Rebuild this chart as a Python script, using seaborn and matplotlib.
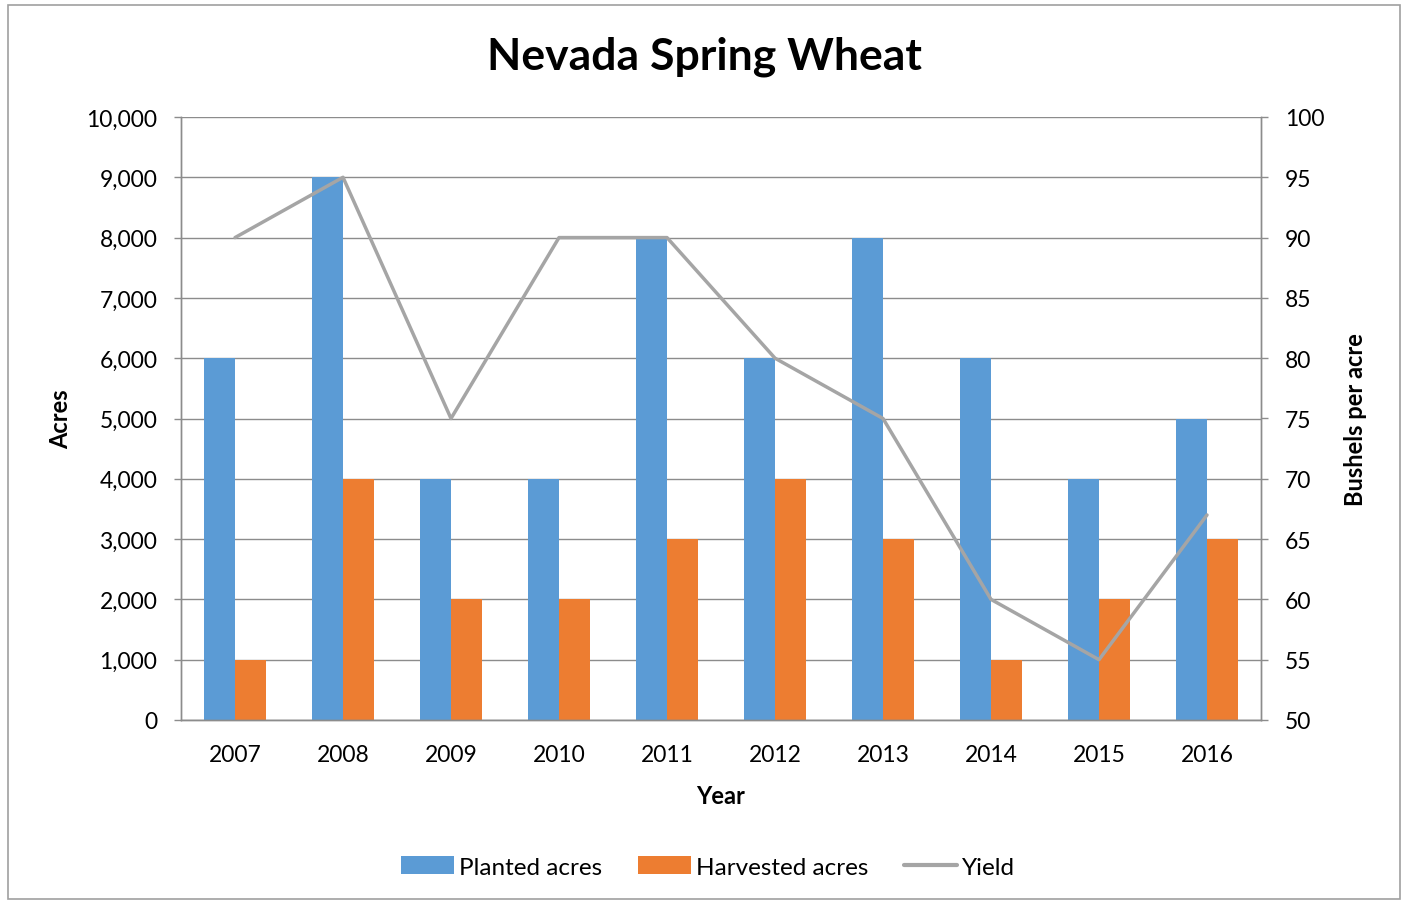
import numpy as np
import pandas as pd
import matplotlib
matplotlib.use("Agg")
import matplotlib.pyplot as plt
from matplotlib.patches import Rectangle, Patch
from matplotlib.lines import Line2D
from matplotlib.ticker import FuncFormatter, MultipleLocator, FixedLocator
import seaborn as sns

years = ["2007", "2008", "2009", "2010", "2011", "2012", "2013", "2014", "2015", "2016"]
planted = [6000, 9000, 4000, 4000, 8000, 6000, 8000, 6000, 4000, 5000]
harvested = [1000, 4000, 2000, 2000, 3000, 4000, 3000, 1000, 2000, 3000]
yield_bu = [90, 95, 75, 90, 90, 80, 75, 60, 55, 67]

sns.set_theme(style="white")
plt.rcParams['font.family'] = ['Lato', 'DejaVu Sans']
plt.rcParams['text.color'] = 'black'
plt.rcParams['axes.labelcolor'] = 'black'
plt.rcParams['xtick.color'] = 'black'
plt.rcParams['ytick.color'] = 'black'

df = pd.DataFrame({
    "Year": years * 2,
    "Acres": planted + harvested,
    "Series": ["Planted acres"] * len(years) + ["Harvested acres"] * len(years),
})

fig = plt.figure(figsize=(14.08, 9.03), dpi=100)
ax = fig.add_axes([181/1408, 1-721/903, (1261-181)/1408, (721-118)/903])

blue = "#5B9BD5"
orange = "#ED7D31"
gray = "#A5A5A5"
axcol = "#8C8C8C"

sns.barplot(data=df, x="Year", y="Acres", hue="Series", order=years,
            hue_order=["Planted acres", "Harvested acres"],
            palette=[blue, orange], width=0.575, saturation=1, ax=ax,
            linewidth=0, legend=False)
ax.set_xlim(-0.5, len(years) - 0.5)
ax.set_ylim(0, 10000)
ax.yaxis.set_major_locator(MultipleLocator(1000))
ax.yaxis.set_major_formatter(FuncFormatter(lambda v, p: f"{int(v):,}"))
ax.grid(axis="y", color=axcol, linewidth=1.0)
ax.set_axisbelow(True)

ax2 = ax.twinx()
sns.lineplot(x=np.arange(len(years)), y=yield_bu, ax=ax2, color=gray, linewidth=2.5)
ax2.set_ylim(50, 100)
ax2.yaxis.set_major_locator(MultipleLocator(5))
ax2.set_xlim(-0.5, len(years) - 0.5)

for a in (ax, ax2):
    for s in a.spines.values():
        s.set_color(axcol)
        s.set_linewidth(1.0)
ax.spines["top"].set_visible(False)
ax2.spines["top"].set_visible(False)

fs = 16.5
ax.tick_params(axis="x", which="major", length=0, labelsize=fs, pad=17, labelcolor="black")
ax.xaxis.set_minor_locator(FixedLocator(np.arange(-0.5, len(years), 1.0)))
ax.tick_params(axis="x", which="minor", length=6, width=1, color=axcol, direction="out")
ax.tick_params(axis="y", length=5, width=1, color=axcol, direction="out", labelsize=fs, pad=12,
               left=True, labelcolor="black")
ax2.tick_params(axis="y", length=5, width=1, color=axcol, direction="out", labelsize=fs, pad=12,
                right=True, labelcolor="black")

ax.set_xlabel("Year", fontsize=17, fontweight="bold", labelpad=14)
ax.set_ylabel("Acres", fontsize=17, fontweight="bold", labelpad=10)
ax2.set_ylabel("Bushels per acre", fontsize=17, fontweight="bold", labelpad=14)

fig.text(0.5, 1-57/903, "Nevada Spring Wheat", ha="center", va="center",
         fontsize=32, fontweight="bold", color="black")

handles = [Patch(facecolor=blue, edgecolor="none"), Patch(facecolor=orange, edgecolor="none"),
           Line2D([0], [0], color=gray, linewidth=3)]
fig.legend(handles, ["Planted acres", "Harvested acres", "Yield"], loc="center",
           bbox_to_anchor=(708/1408, 1-868/903), ncol=3, frameon=False, fontsize=17.5,
           handlelength=2.2, handleheight=0.7, handletextpad=0.2, columnspacing=1.45)

fig.patches.append(Rectangle((8/1408, 1-900/903), (1400-8)/1408, (900-6)/903,
                             transform=fig.transFigure, fill=False, edgecolor="#A0A0A0",
                             linewidth=1.2))

fig.savefig("out.png", dpi=100, facecolor="white")
